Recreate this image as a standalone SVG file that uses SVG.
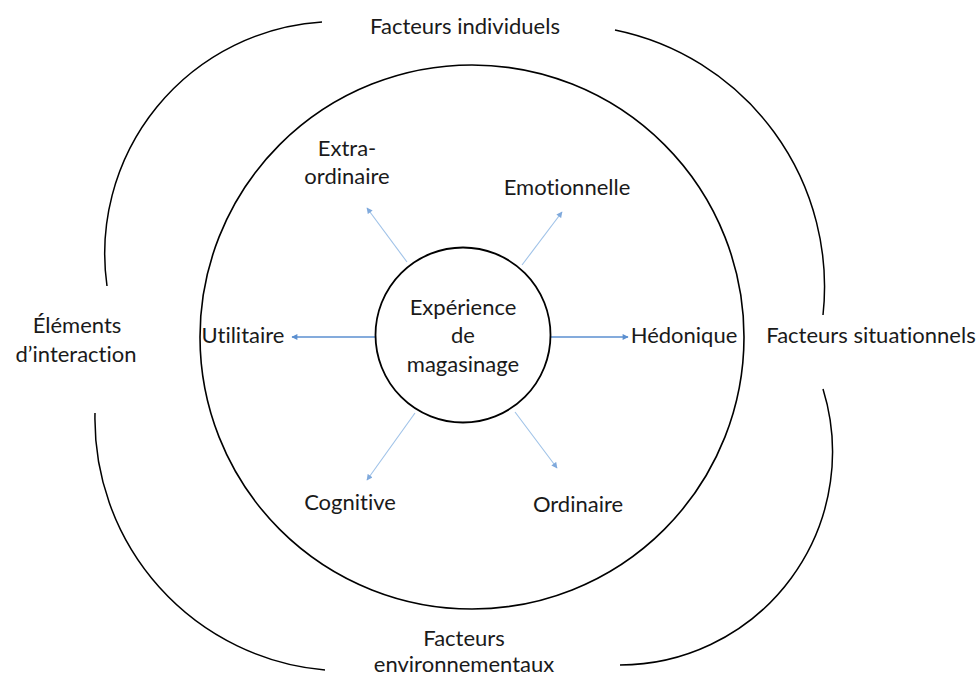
<svg xmlns="http://www.w3.org/2000/svg" width="979" height="677" viewBox="0 0 979 677">
  <style>
    .lbl { font-family: Lato, "Liberation Sans", sans-serif; font-size: 22px; fill: #1a1a1a; text-anchor: middle; font-variant-ligatures: none; }
    .arc { fill: none; stroke: #000; stroke-width: 1.5; }
    .ring { fill: none; stroke: #000; stroke-width: 1.6; }
    .core { fill: #fff; stroke: #000; stroke-width: 1.8; }
    .main { stroke: #5b8fd0; stroke-width: 1.6; fill: none; }
    .diag { stroke: #9fc2e8; stroke-width: 1.1; fill: none; }
  </style>
  <defs>
    <marker id="ahMain" viewBox="0 0 10 10" refX="9" refY="5" markerWidth="7" markerHeight="6" markerUnits="userSpaceOnUse" orient="auto">
      <path d="M0,0 L10,5 L0,10 z" fill="#5b8fd0"/>
    </marker>
    <marker id="ahDiag" viewBox="0 0 10 10" refX="9" refY="5" markerWidth="7" markerHeight="6" markerUnits="userSpaceOnUse" orient="auto">
      <path d="M0,0 L10,5 L0,10 z" fill="#7fa9dc"/>
    </marker>
  </defs>
  <rect width="979" height="677" fill="#fff"/>

  <g id="outer-arcs">
    <path class="arc" d="M 322 22 A 232 232 0 0 0 107 286"/>
    <path class="arc" d="M 615 30 A 262 262 0 0 1 823 315"/>
    <path class="arc" d="M 823 389 A 213 213 0 0 1 620 665"/>
    <path class="arc" d="M 95 413 A 252 252 0 0 0 325 670"/>
  </g>

  <g id="node-facteurs-individuels"><text class="lbl" x="465" y="34">Facteurs individuels</text></g>
  <g id="node-facteurs-situationnels"><text class="lbl" x="871" y="343">Facteurs situationnels</text></g>
  <g id="node-elements-interaction"><text class="lbl" x="77" y="333">Éléments</text><text class="lbl" x="76" y="362">d’interaction</text></g>
  <g id="node-facteurs-environnementaux"><text class="lbl" x="464" y="646">Facteurs</text><text class="lbl" x="464" y="672">environnementaux</text></g>

  <g id="node-ring"><circle class="ring" cx="472" cy="337" r="272"/></g>

  <g id="connectors">
    <line class="main" x1="375" y1="337" x2="292" y2="337" marker-end="url(#ahMain)"/>
    <line class="main" x1="551" y1="337" x2="628" y2="337" marker-end="url(#ahMain)"/>
    <line class="diag" x1="407" y1="262" x2="367" y2="208" marker-end="url(#ahDiag)"/>
    <line class="diag" x1="522" y1="265" x2="562" y2="212" marker-end="url(#ahDiag)"/>
    <line class="diag" x1="415" y1="413" x2="367" y2="480" marker-end="url(#ahDiag)"/>
    <line class="diag" x1="515" y1="412" x2="557" y2="468" marker-end="url(#ahDiag)"/>
  </g>

  <g id="node-experience">
    <circle class="core" cx="463" cy="335" r="87.5"/>
    <text class="lbl" x="463" y="315">Expérience</text>
    <text class="lbl" x="463" y="343">de</text>
    <text class="lbl" x="463" y="372">magasinage</text>
  </g>

  <g id="node-utilitaire"><text class="lbl" x="243" y="343">Utilitaire</text></g>
  <g id="node-hedonique"><text class="lbl" x="684" y="343">Hédonique</text></g>
  <g id="node-extra-ordinaire"><text class="lbl" x="347" y="156">Extra-</text><text class="lbl" x="347" y="184">ordinaire</text></g>
  <g id="node-emotionnelle"><text class="lbl" x="567" y="195">Emotionnelle</text></g>
  <g id="node-cognitive"><text class="lbl" x="350" y="510">Cognitive</text></g>
  <g id="node-ordinaire"><text class="lbl" x="578" y="512">Ordinaire</text></g>
</svg>
